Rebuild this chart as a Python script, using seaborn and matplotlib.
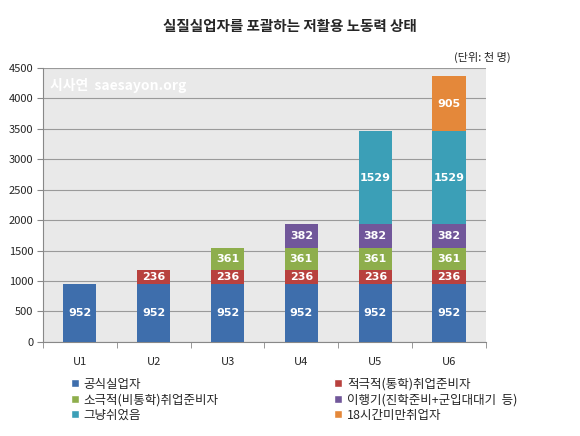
import numpy as np
import pandas as pd
import matplotlib
matplotlib.use("Agg")
import matplotlib.pyplot as plt
import seaborn as sns
from matplotlib.patches import Patch

# data (천 명)
categories = ["U1", "U2", "U3", "U4", "U5", "U6"]
series_names = ["공식실업자", "적극적(통학)취업준비자", "소극적(비통학)취업준비자",
                "이행기(진학준비+군입대대기  등)", "그냥쉬었음", "18시간미만취업자"]
official = [952, 952, 952, 952, 952, 952]
active_prep = [0, 236, 236, 236, 236, 236]
passive_prep = [0, 0, 361, 361, 361, 361]
transition = [0, 0, 0, 382, 382, 382]
just_rested = [0, 0, 0, 0, 1529, 1529]
short_hours = [0, 0, 0, 0, 0, 905]

series_values = [official, active_prep, passive_prep, transition, just_rested, short_hours]
colors = ["#3e6eac", "#b8413e", "#8eae4c", "#71579a", "#3b9fb7", "#e4883a"]

sns.set_style("white")
plt.rcParams["font.family"] = ["Noto Sans CJK KR", "DejaVu Sans"]

fig = plt.figure(figsize=(5.8, 4.36), dpi=100)
ax = fig.add_axes([0.074, 0.216, 0.764, 0.628])
ax.set_facecolor("#e9e9e9")

vals = np.array(series_values)
cum = np.cumsum(vals, axis=0)

# draw cumulative bars from top layer down so each layer shows its own slice
for i in range(len(series_names) - 1, -1, -1):
    df = pd.DataFrame({"cat": categories, "top": cum[i]})
    sns.barplot(data=df, x="cat", y="top", order=categories, color=colors[i],
                width=0.45, saturation=1, linewidth=0, ax=ax, zorder=3)

for i in range(len(series_names)):
    for j, cat in enumerate(categories):
        v = vals[i, j]
        if v > 0:
            ax.text(j, cum[i, j] - v / 2, str(v), ha="center", va="center",
                    color="white", fontsize=8, fontweight="bold", zorder=4,
                    family="DejaVu Sans")

ax.set_ylim(0, 4500)
ax.set_xlim(-0.5, 5.5)
ax.set_yticks(range(0, 4501, 500))
ax.yaxis.grid(True, color="#9a9a9a", linewidth=0.8, zorder=0)
ax.set_axisbelow(True)
ax.set_xlabel("")
ax.set_ylabel("")
ax.tick_params(axis="y", labelsize=8, length=4, color="#888888", pad=3, left=True)
ax.set_xticks(range(len(categories)))
ax.set_xticklabels(categories, fontsize=8)
ax.set_xticks(np.arange(-0.5, 6, 1), minor=True)
ax.tick_params(axis="x", which="major", length=0, pad=11)
ax.tick_params(axis="x", which="minor", length=4, color="#888888", bottom=True)
for s in ["top", "right"]:
    ax.spines[s].set_visible(False)
for s in ["left", "bottom"]:
    ax.spines[s].set_color("#888888")
    ax.spines[s].set_linewidth(0.8)

# watermark
ax.text(0.015, 0.935, "시사연  saesayon.org", transform=ax.transAxes, color="white",
        fontsize=10, fontweight="bold", ha="left", va="center", zorder=5)

fig.text(0.5, 0.94, "실질실업자를 포괄하는 저활용 노동력 상태", ha="center", va="center",
         fontsize=10.5, fontweight="bold")
fig.text(0.88, 0.869, "(단위: 천 명)", ha="right", va="center", fontsize=8)

handles = [Patch(facecolor=c) for c in colors]
leg_kw = dict(frameon=False, fontsize=9, handlelength=0.6, handleheight=0.6,
              handletextpad=0.4, labelspacing=0.2, loc="upper left", borderaxespad=0)
fig.legend([handles[0], handles[2], handles[4]],
           [series_names[0], series_names[2], series_names[4]],
           bbox_to_anchor=(0.114, 0.145), **leg_kw)
fig.legend([handles[1], handles[3], handles[5]],
           [series_names[1], series_names[3], series_names[5]],
           bbox_to_anchor=(0.568, 0.145), **leg_kw)

fig.savefig("out.png", dpi=100)
